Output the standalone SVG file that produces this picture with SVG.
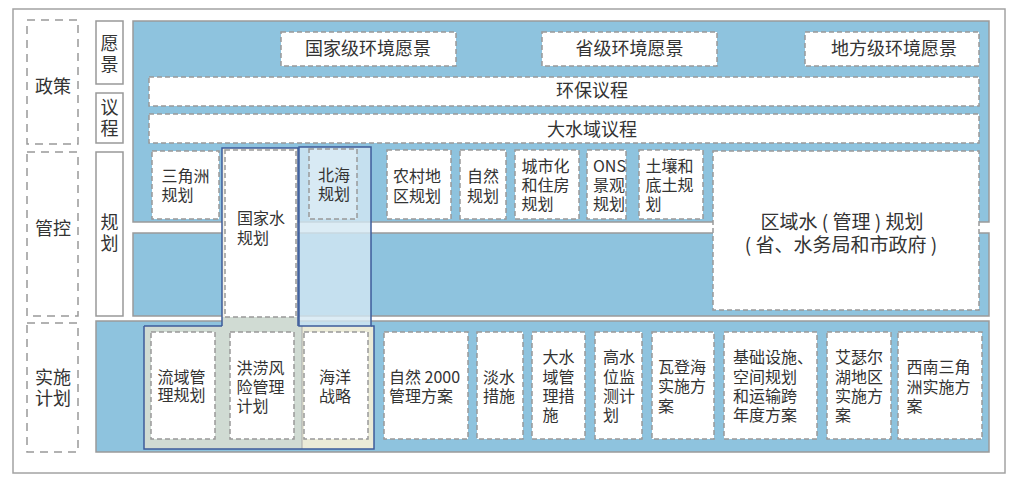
<svg xmlns="http://www.w3.org/2000/svg" width="1016" height="483" viewBox="0 0 1016 483">
<style>
text{font-family:"Noto Sans CJK SC","Noto Sans",sans-serif;fill:#333;}
.t18{font-size:18px;}
.t16{font-size:16px;}
.t19{font-size:19px;}
.mid{text-anchor:middle;}
.frame{fill:#fff;stroke:#a3a3a3;stroke-width:1.5;}
.lab{fill:#fff;stroke:#999;stroke-width:1.5;stroke-dasharray:8 6;}
.side{fill:#fff;stroke:#999;stroke-width:1.5;}
.panel{fill:#8ec3de;stroke:#9a9a9a;stroke-width:1.5;}
.box{fill:#fff;stroke:#999;stroke-width:1.5;stroke-dasharray:5 3;}
.hl{fill:none;stroke:#3e5c9a;stroke-width:1.5;}
</style>
<rect class="frame" x="13" y="9" width="992" height="464"/>

<g id="policy"><rect class="lab" x="27" y="20" width="51" height="124"/><text class="t18 mid" x="53" y="93">政策</text></g>
<g id="control"><rect class="lab" x="27" y="152" width="51" height="164"/><text class="t18 mid" x="53" y="235">管控</text></g>
<g id="implementation"><rect class="lab" x="27" y="323" width="51" height="129"/><text class="t18 mid" x="53" y="383.5">实施<tspan x="53" dy="21">计划</tspan></text></g>

<g id="vision"><rect class="side" x="96" y="21" width="27" height="63"/><text class="t18 mid" x="109.5" y="50">愿<tspan x="109.5" dy="21">景</tspan></text></g>
<g id="agenda"><rect class="side" x="96" y="93" width="27" height="50"/><text class="t18 mid" x="109.5" y="113.5">议<tspan x="109.5" dy="21">程</tspan></text></g>
<g id="planning"><rect class="side" x="96" y="152" width="27" height="164"/><text class="t18 mid" x="109.5" y="229">规<tspan x="109.5" dy="21">划</tspan></text></g>

<g id="panels">
<rect class="panel" x="133" y="21" width="856" height="201"/>
<rect class="panel" x="133" y="233" width="856" height="83"/>
<rect class="panel" x="96" y="321" width="893" height="131"/>
</g>

<g id="groupings-fill">
<rect x="222" y="148" width="76" height="170" fill="#f4f0e4"/>
<path d="M144,326 H222 V317 H299 V326 H302 V449 H144 Z" fill="#d0dbd3"/>
<rect x="302" y="326" width="72" height="123" fill="#ebebd8"/>
<line x1="302" y1="326" x2="302" y2="449" stroke="#a9a9a9" stroke-width="1"/>
<rect x="299" y="147" width="72" height="179" fill="#d3e7f2" opacity="0.8"/>
</g>

<g id="national-vision"><rect class="box" x="281" y="32" width="175" height="34"/><text class="t18 mid" x="368" y="55">国家级环境愿景</text></g>
<g id="provincial-vision"><rect class="box" x="542" y="32" width="175" height="34"/><text class="t18 mid" x="629.5" y="55">省级环境愿景</text></g>
<g id="local-vision"><rect class="box" x="805" y="32" width="174" height="34"/><text class="t18 mid" x="894" y="55">地方级环境愿景</text></g>
<g id="env-agenda"><rect class="box" x="149" y="77" width="830" height="29"/><text class="t18 mid" x="592" y="97">环保议程</text></g>
<g id="water-agenda"><rect class="box" x="149" y="114" width="830" height="29"/><text class="t18 mid" x="592" y="135.5">大水域议程</text></g>

<g id="delta-plan"><rect class="box" x="152" y="151" width="67" height="68"/><text class="t16" x="161.5" y="181.5">三角洲<tspan x="161.5" dy="19.5">规划</tspan></text></g>
<g id="national-water-plan"><rect class="box" x="225" y="150" width="71" height="167"/><text class="t16" x="237" y="223.5">国家水<tspan x="237" dy="20">规划</tspan></text></g>
<g id="north-sea-plan"><rect class="box" x="309" y="149" width="48" height="70" style="fill:#d8eaf4"/><text class="t16" x="318" y="181">北海<tspan x="318" dy="19">规划</tspan></text></g>
<g id="rural-plan"><rect class="box" x="387" y="150" width="64" height="69"/><text class="t16" x="393" y="182">农村地<tspan x="393" dy="19.5">区规划</tspan></text></g>
<g id="nature-plan"><rect class="box" x="460" y="150" width="46" height="69"/><text class="t16" x="467" y="182">自然<tspan x="467" dy="19.5">规划</tspan></text></g>
<g id="urban-plan"><rect class="box" x="515" y="150" width="64" height="69"/><text class="t16" x="521.5" y="171.5">城市化<tspan x="521.5" dy="19">和住房</tspan><tspan x="521.5" dy="19">规划</tspan></text></g>
<g id="ons-plan"><rect class="box" x="587" y="150" width="39" height="69"/><text class="t16" x="593" y="171.5">ONS<tspan x="593" dy="19">景观</tspan><tspan x="593" dy="19">规划</tspan></text></g>
<g id="soil-plan"><rect class="box" x="639" y="150" width="64" height="69"/><text class="t16" x="645.5" y="171.5">土壤和<tspan x="645.5" dy="19">底土规</tspan><tspan x="645.5" dy="19">划</tspan></text></g>
<g id="regional-water-plan"><rect class="box" x="713" y="151" width="266" height="159"/><text class="t19 mid" x="842" y="228.5">区域水 ( 管理 ) 规划<tspan x="841" dy="23.5">( 省、水务局和市政府 )</tspan></text></g>

<g id="basin-plan"><rect class="box" x="151" y="332" width="64" height="107"/><text class="t16" x="157.5" y="382.5">流域管<tspan x="157.5" dy="18.5">理规划</tspan></text></g>
<g id="flood-plan"><rect class="box" x="230" y="332" width="64" height="107"/><text class="t16" x="236.5" y="374">洪涝风<tspan x="236.5" dy="19">险管理</tspan><tspan x="236.5" dy="19">计划</tspan></text></g>
<g id="marine-strategy"><rect class="box" x="304" y="332" width="64" height="107"/><text class="t16" x="319" y="382.5">海洋<tspan x="319" dy="19.5">战略</tspan></text></g>
<g id="natura2000"><rect class="box" x="384" y="332" width="84" height="107"/><text class="t16" x="389" y="382.5">自然 2000<tspan x="389" dy="19.5">管理方案</tspan></text></g>
<g id="freshwater"><rect class="box" x="477" y="332" width="46" height="107"/><text class="t16" x="483" y="382.5">淡水<tspan x="483" dy="19.5">措施</tspan></text></g>
<g id="water-measures"><rect class="box" x="532" y="332" width="53" height="107"/><text class="t16" x="542.5" y="363">大水<tspan x="542.5" dy="19.5">域管</tspan><tspan x="542.5" dy="19.5">理措</tspan><tspan x="542.5" dy="19">施</tspan></text></g>
<g id="high-water"><rect class="box" x="595" y="332" width="47" height="107"/><text class="t16" x="603" y="363">高水<tspan x="603" dy="19.5">位监</tspan><tspan x="603" dy="19.5">测计</tspan><tspan x="603" dy="19">划</tspan></text></g>
<g id="wadden"><rect class="box" x="652" y="332" width="62" height="107"/><text class="t16" x="658" y="372.5">瓦登海<tspan x="658" dy="19.5">实施方</tspan><tspan x="658" dy="19.5">案</tspan></text></g>
<g id="infrastructure"><rect class="box" x="724" y="332" width="93" height="107"/><text class="t16" x="733" y="363">基础设施、<tspan x="733" dy="19.5">空间规划</tspan><tspan x="733" dy="19.5">和运输跨</tspan><tspan x="733" dy="19">年度方案</tspan></text></g>
<g id="ijsselmeer"><rect class="box" x="827" y="332" width="64" height="107"/><text class="t16" x="835" y="363">艾瑟尔<tspan x="835" dy="19.5">湖地区</tspan><tspan x="835" dy="19.5">实施方</tspan><tspan x="835" dy="19">案</tspan></text></g>
<g id="southwest-delta"><rect class="box" x="898" y="332" width="84" height="107"/><text class="t16" x="906.5" y="373">西南三角<tspan x="906.5" dy="19.5">洲实施方</tspan><tspan x="906.5" dy="19.5">案</tspan></text></g>

<g id="groupings-outline">
<path class="hl" d="M222,326 V148 H298 V326 M144,326 H222 M144,326 V449 H374 V326 H371"/>
<rect class="hl" x="299" y="147" width="72" height="179"/>
</g>
<g id="connectors"/>
</svg>
